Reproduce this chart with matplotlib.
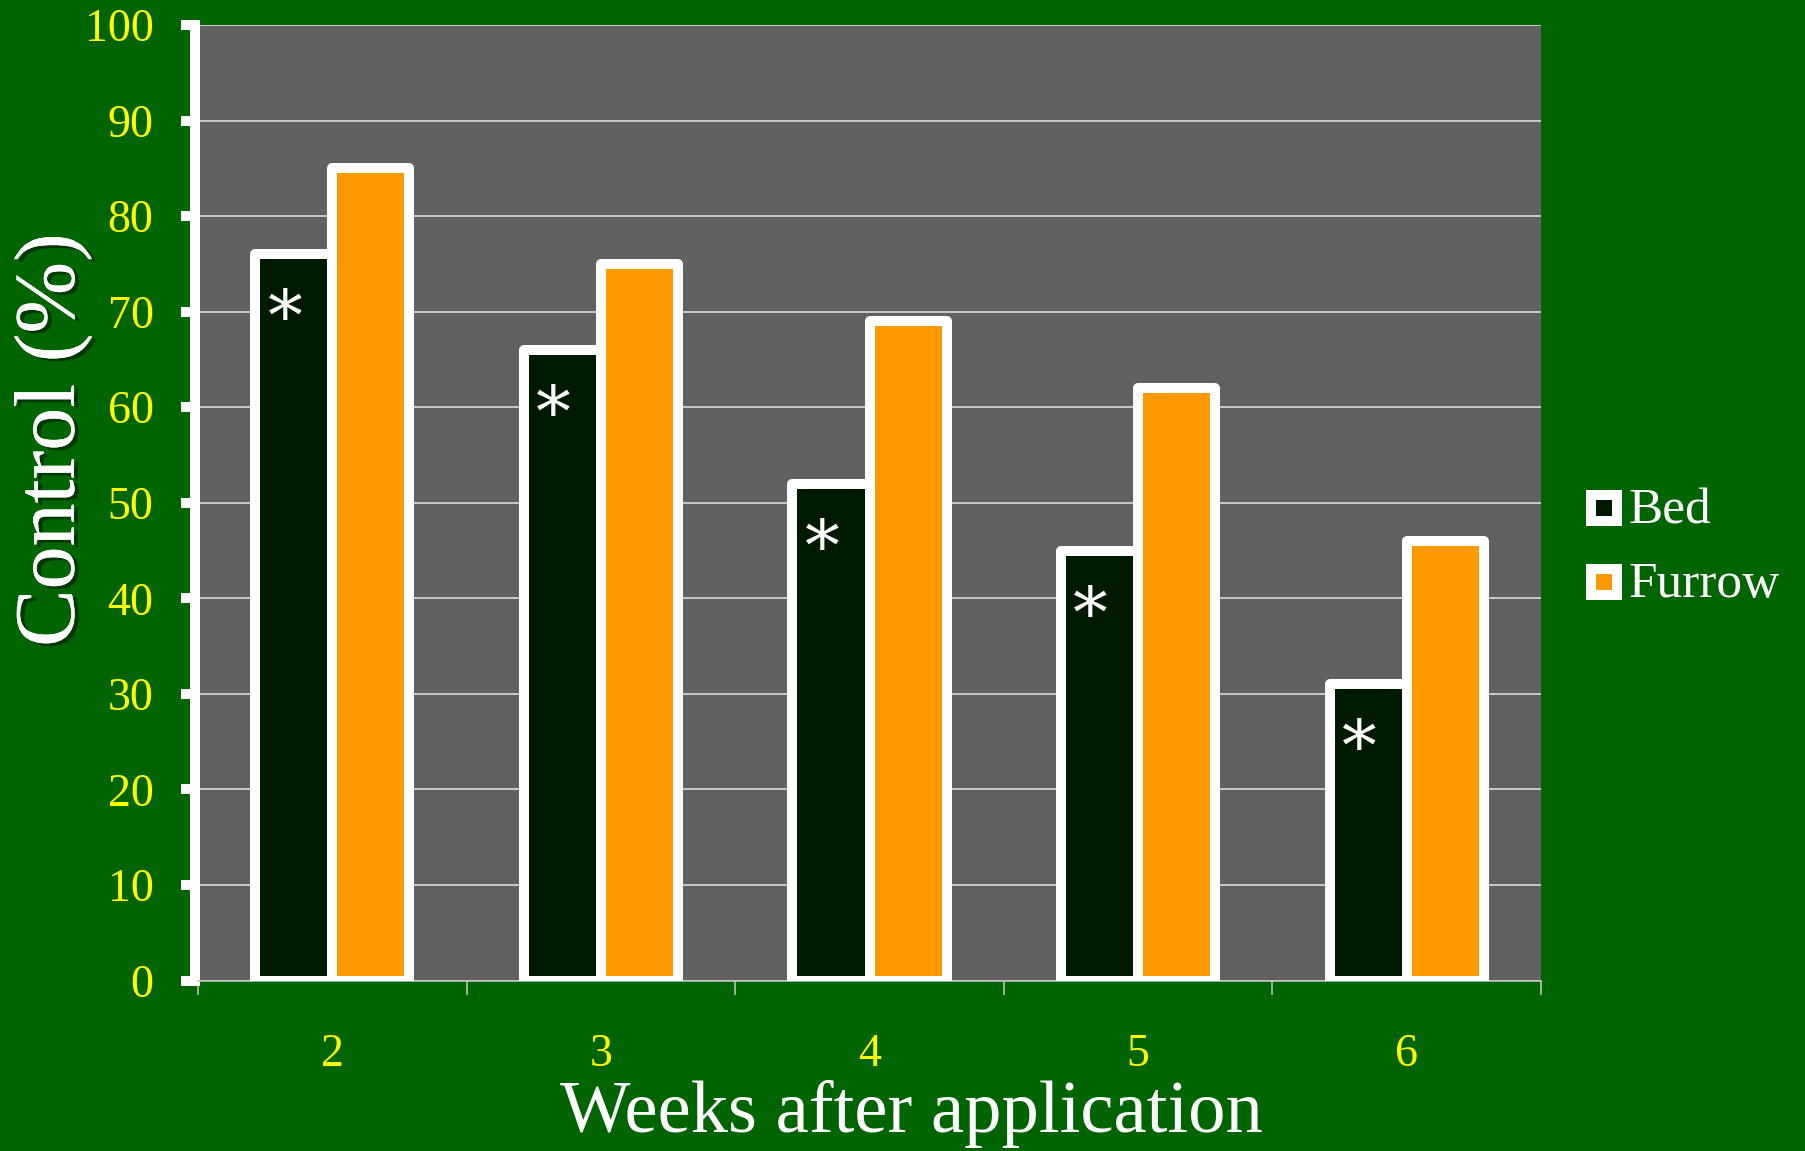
import numpy as np
import matplotlib
matplotlib.use("Agg")
import matplotlib.pyplot as plt
from matplotlib.lines import Line2D
import matplotlib.patheffects as pe

plt.rcParams['font.family'] = ['Liberation Serif', 'DejaVu Serif']

# ---- data ----
weeks = ['2', '3', '4', '5', '6']
series_names = ['Bed', 'Furrow']
bed = [76, 66, 52, 45, 31]
furrow = [85, 75, 69, 62, 46]
sig_marks = ['*', '*', '*', '*', '*']
y_ticks = [0, 10, 20, 30, 40, 50, 60, 70, 80, 90, 100]

BG = '#006400'
PLOT_BG = '#616161'
BED_C = '#001a00'
FUR_C = '#ff9900'
YEL = '#ffff00'

W, H = 1806, 1151
fig = plt.figure(figsize=(W / 100, H / 100), dpi=100, facecolor=BG)
ax = fig.add_axes([198 / W, 1 - 980.5 / H, 1343 / W, 955.5 / H])
ax.set_facecolor(PLOT_BG)

x = np.arange(len(weeks))
bw = 0.287
off = 0.1435
ax.bar(x - off, bed, bw, color=BED_C, edgecolor='white', linewidth=7.2,
       joinstyle='round', zorder=3)
ax.bar(x + off, furrow, bw, color=FUR_C, edgecolor='white', linewidth=7.2,
       joinstyle='round', zorder=3)

for xi, v, m in zip(x, bed, sig_marks):
    ax.text(xi - off - 0.033, v - 7.0, m, ha='center', va='center',
            fontsize=50, color='white', family='DejaVu Serif', zorder=4)

ax.set_xlim(-0.5, len(weeks) - 0.5)
ax.set_ylim(0, 100)

ax.yaxis.grid(True, color='#e6e6e6', lw=1.1)
ax.set_axisbelow(True)

for s in ['top', 'right']:
    ax.spines[s].set_visible(False)
ax.spines['left'].set_color('white')
ax.spines['left'].set_linewidth(7.2)
ax.spines['left'].set_position(('outward', 2))
ax.spines['bottom'].set_color('#c8c8c8')
ax.spines['bottom'].set_linewidth(1.1)

ax.set_yticks(y_ticks)
ax.set_yticklabels([str(t) for t in y_ticks])
ax.tick_params(axis='y', length=10, width=7.2, color='white', direction='out',
               pad=20, labelcolor=YEL, labelsize=33)

ax.set_xticks(np.arange(-0.5, len(weeks), 1.0))
ax.set_xticklabels([])
ax.set_xticks(x, minor=True)
ax.set_xticklabels(weeks, minor=True)
ax.tick_params(axis='x', which='major', length=10, width=1.1, color='#c8c8c8',
               direction='out')
ax.tick_params(axis='x', which='minor', length=0, pad=38, labelcolor=YEL,
               labelsize=33)

fig.text(911 / W, 1 - 1114 / H, 'Weeks after application', ha='center',
         va='center', fontsize=53.7, color='white')

fig.text(53 / W, 1 - 440 / H, 'Control (%)', ha='center', va='center',
         rotation=90, fontsize=62, color='white',
         path_effects=[pe.withSimplePatchShadow(offset=(3, -2),
                                                shadow_rgbFace='black',
                                                alpha=0.45),
                       pe.Normal()])

# legend (manual)
leg_colors = [BED_C, FUR_C]
leg_y = [511, 585]
for name, c, yy in zip(series_names, leg_colors, leg_y):
    fig.add_artist(Line2D([1604 / W], [1 - (yy - 3) / H], transform=fig.transFigure,
                          marker='s', markersize=18.7, markerfacecolor=c,
                          markeredgecolor='white', markeredgewidth=7.2,
                          linestyle='none'))
    fig.text(1629 / W, 1 - yy / H, name, ha='left', va='center',
             fontsize=37, color='white')

fig.savefig('out.png', dpi=100, facecolor=BG)
